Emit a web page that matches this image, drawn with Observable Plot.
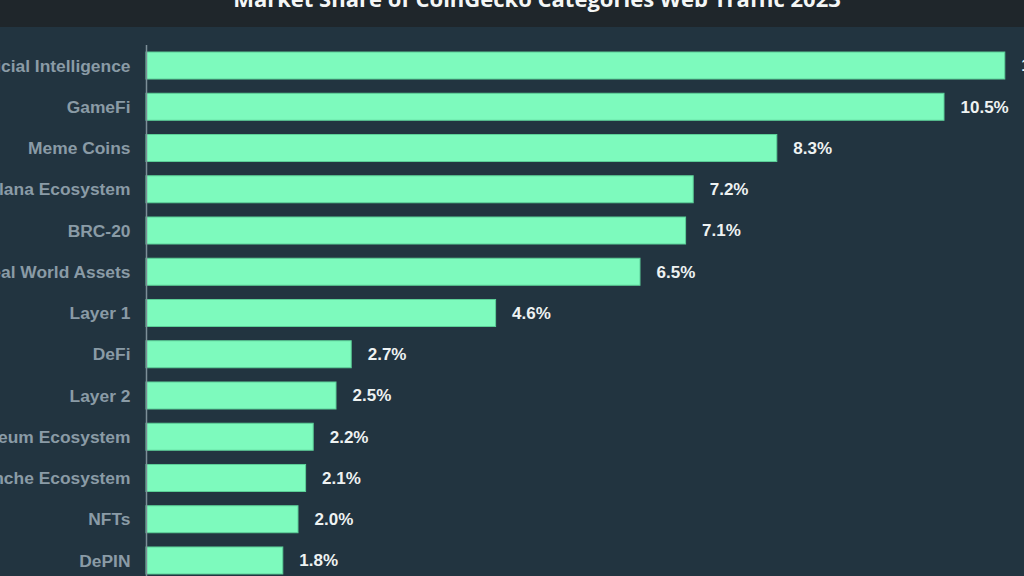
<!DOCTYPE html>
<html><head><meta charset="utf-8">
<script src="https://cdn.jsdelivr.net/npm/d3@7"></script>
<script src="https://cdn.jsdelivr.net/npm/@observablehq/plot@0.6"></script>
<style>
html,body{margin:0;padding:0;width:1024px;height:576px;overflow:hidden;background:#223440;}
#band{position:absolute;left:0;top:0;width:1024px;height:27px;background:#1f262b;overflow:hidden;}
#title{position:absolute;left:0;width:1074px;top:-17px;line-height:30px;text-align:center;font:700 22px "Open Sans",sans-serif;color:#f4f6f6;white-space:nowrap;}
#chart{position:absolute;left:-100px;top:27px;width:1200px;height:600px;}
#chart svg{max-width:none !important;width:1200px !important;height:600px !important;}
</style></head><body>
<div id="band"><div id="title">Market Share of CoinGecko Categories Web Traffic 2023</div></div>
<div id="chart"></div>
<script>
const categories = ["Artificial Intelligence","GameFi","Meme Coins","Solana Ecosystem","BRC-20","Real World Assets","Layer 1","DeFi","Layer 2","Ethereum Ecosystem","Avalanche Ecosystem","NFTs","DePIN"];
const shares = [11.3,10.5,8.3,7.2,7.1,6.5,4.6,2.7,2.5,2.2,2.1,2.0,1.8];
const valueLabels = ["11.3%","10.5%","8.3%","7.2%","7.1%","6.5%","4.6%","2.7%","2.5%","2.2%","2.1%","2.0%","1.8%"];

const data = categories.map((c, i) => ({category: c, share: shares[i], label: valueLabels[i]}));

const chart = Plot.plot({
  width: 1200,
  height: 600,
  marginLeft: 246,
  marginRight: 42,
  marginTop: 18,
  marginBottom: 46,
  style: {background: "transparent", color: "#8a9ba6", fontFamily: "'Liberation Sans', Arial, sans-serif", fontSize: "17.4px", fontWeight: "700", maxWidth: "none"},
  x: {domain: [0, 12], axis: null},
  y: {domain: categories, paddingInner: 0.345, paddingOuter: 0.17, round: false, label: null, tickSize: 0, tickPadding: 16},
  marks: [
    Plot.barX(data, {x: "share", y: "category", fill: "#7dfabd", stroke: "#5ccf98", strokeWidth: 1}),
    Plot.ruleX([0], {stroke: "#7d8e98", strokeWidth: 1.5}),
    Plot.text(data, {x: "share", y: "category", text: "label", textAnchor: "start", dx: 16, fill: "#eef2f2", fontSize: 17, fontWeight: 700})
  ]
});
document.getElementById("chart").appendChild(chart);
</script>
</body></html>
